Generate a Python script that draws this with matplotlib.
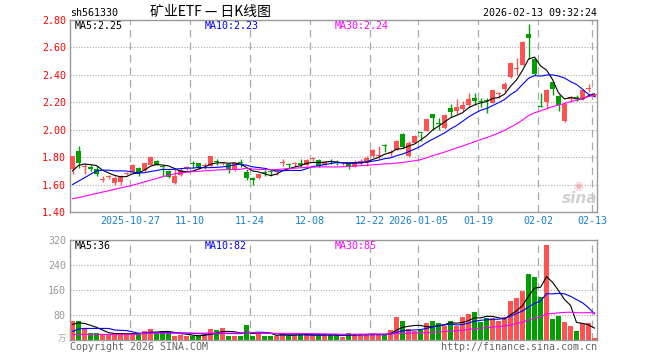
import matplotlib
matplotlib.use('Agg')
import matplotlib.pyplot as plt
import numpy as np
import pandas as pd

# ---- data (10-13 .. 02-13, 88 trading days) ----
opens = [1.71, 1.847, 1.73, 1.73, 1.71, 1.635, 1.655, 1.615, 1.62, 1.68,
         1.695, 1.72, 1.705, 1.745, 1.775, 1.73, 1.70, 1.612, 1.67, 1.72,
         1.752, 1.755, 1.735, 1.735, 1.77, 1.755, 1.75, 1.71, 1.757, 1.694,
         1.645, 1.645, 1.688, 1.695, 1.692, 1.758, 1.745, 1.748, 1.76, 1.745,
         1.79, 1.78, 1.745, 1.77, 1.762, 1.755, 1.756, 1.73, 1.765, 1.76,
         1.805, 1.808, 1.88, 1.828, 1.853, 1.972, 1.805, 1.903, 1.978, 1.994,
         2.112, 2.045, 2.014, 2.157, 2.137, 2.154, 2.179, 2.231, 2.205, 2.212,
         2.198, 2.258, 2.297, 2.383, 2.443, 2.474, 2.696, 2.519, 2.167, 2.203,
         2.346, 2.248, 2.063, 2.226, 2.236, 2.223, 2.297, 2.252]
closes = [1.81, 1.76, 1.735, 1.71, 1.68, 1.64, 1.66, 1.645, 1.66, 1.685,
          1.745, 1.685, 1.755, 1.80, 1.745, 1.728, 1.652, 1.662, 1.705, 1.72,
          1.75, 1.73, 1.737, 1.805, 1.768, 1.757, 1.71, 1.755, 1.755, 1.645,
          1.632, 1.675, 1.685, 1.693, 1.694, 1.76, 1.742, 1.75, 1.745, 1.78,
          1.792, 1.735, 1.768, 1.768, 1.76, 1.757, 1.73, 1.768, 1.768, 1.797,
          1.85, 1.81, 1.878, 1.83, 1.92, 1.873, 1.903, 1.952, 1.976, 2.075,
          2.083, 2.043, 2.105, 2.13, 2.162, 2.179, 2.223, 2.211, 2.203, 2.21,
          2.29, 2.26, 2.334, 2.487, 2.445, 2.642, 2.667, 2.408, 2.165, 2.292,
          2.297, 2.179, 2.186, 2.228, 2.234, 2.292, 2.299, 2.255]
highs = [1.81, 1.88, 1.755, 1.74, 1.735, 1.66, 1.67, 1.66, 1.67, 1.69,
         1.75, 1.725, 1.76, 1.805, 1.78, 1.745, 1.705, 1.71, 1.72, 1.735,
         1.77, 1.76, 1.756, 1.81, 1.785, 1.768, 1.755, 1.76, 1.785, 1.71,
         1.655, 1.68, 1.705, 1.705, 1.705, 1.785, 1.757, 1.768, 1.785, 1.785,
         1.80, 1.785, 1.773, 1.785, 1.78, 1.768, 1.76, 1.78, 1.79, 1.805,
         1.86, 1.88, 1.898, 1.855, 1.925, 1.975, 1.915, 1.965, 1.978, 2.08,
         2.115, 2.088, 2.112, 2.186, 2.223, 2.211, 2.267, 2.267, 2.228, 2.228,
         2.29, 2.277, 2.35, 2.494, 2.52, 2.647, 2.77, 2.524, 2.267, 2.297,
         2.351, 2.253, 2.203, 2.243, 2.253, 2.297, 2.334, 2.26]
lows = [1.68, 1.72, 1.68, 1.70, 1.66, 1.62, 1.64, 1.60, 1.60, 1.67,
        1.69, 1.665, 1.69, 1.74, 1.74, 1.66, 1.645, 1.607, 1.665, 1.705,
        1.72, 1.71, 1.71, 1.73, 1.745, 1.74, 1.685, 1.70, 1.73, 1.635,
        1.60, 1.64, 1.66, 1.665, 1.67, 1.735, 1.72, 1.73, 1.73, 1.735,
        1.77, 1.73, 1.74, 1.75, 1.745, 1.745, 1.71, 1.725, 1.745, 1.735,
        1.80, 1.785, 1.84, 1.805, 1.85, 1.87, 1.80, 1.90, 1.915, 1.99,
        2.00, 1.997, 2.007, 2.095, 2.112, 2.137, 2.162, 2.179, 2.162, 2.12,
        2.194, 2.228, 2.277, 2.376, 2.396, 2.469, 2.519, 2.40, 2.162, 2.154,
        2.253, 2.137, 2.055, 2.203, 2.211, 2.218, 2.272, 2.235]
volumes = [62, 62, 34, 22, 22, 20, 20, 20, 20, 20,
           20, 20, 30, 35, 22, 28, 22, 14, 16, 14,
           12, 12, 20, 34, 32, 38, 14, 14, 14, 48,
           14, 22, 12, 12, 14, 22, 14, 16, 16, 18,
           16, 16, 16, 16, 16, 11, 21, 18, 19, 18,
           18, 18, 16, 32, 74, 62, 35, 30, 32, 54,
           62, 53, 46, 62, 46, 74, 83, 91, 59, 72,
           72, 61, 73, 126, 134, 157, 212, 202, 139, 304,
           67, 78, 59, 46, 30, 53, 54, 7]

# moving-average values at the left edge (history before the window)
ma5_head = [1.70, 1.74, 1.75, 1.745]
ma10_head = [1.60, 1.625, 1.65, 1.675, 1.70, 1.705, 1.705, 1.70, 1.70]
ma30_head = [1.497, 1.505, 1.515, 1.525, 1.535, 1.545, 1.555, 1.565, 1.575, 1.585,
             1.595, 1.607, 1.62, 1.632, 1.645, 1.657, 1.668, 1.678, 1.685, 1.69,
             1.694, 1.697, 1.70, 1.703, 1.706, 1.708, 1.709, 1.71, 1.711]
vma5_head = [50, 55, 53, 47]
vma10_head = [27, 35, 37, 37, 37, 37, 37, 32, 31]
vma30_head = [18] * 12 + [22] * 17

date_idx = [10, 20, 30, 40, 50, 58, 68, 78, 87]
date_lbl = ['2025-10-27', '11-10', '11-24', '12-08', '12-22', '2026-01-05',
            '01-19', '02-02', '02-13']
price_ticks = [1.40, 1.60, 1.80, 2.00, 2.20, 2.40, 2.60, 2.80]
vol_ticks = [80, 160, 240, 320]


def ma(vals, n, head):
    s = pd.Series(vals, dtype=float).rolling(n).mean()
    s.iloc[:len(head)] = head
    return s.values


W, H = 660, 360
RED = '#ff5252'
GRN = '#00a000'
GRID = '#aaaaaa'
plt.rcParams['font.family'] = ['DejaVu Sans Mono', 'Noto Sans CJK SC']

fig = plt.figure(figsize=(6.6, 3.6), dpi=100)


def fx(x):
    return x / W


def fy(y):
    return 1 - y / H


ax = fig.add_axes([fx(70), fy(212), 527 / W, 192 / H])
axv = fig.add_axes([fx(70), fy(340), 527 / W, 100 / H])

o = np.array(opens); c = np.array(closes)
h = np.array(highs); l = np.array(lows); v = np.array(volumes)
x = np.arange(len(o))
up = c >= o
cols = np.where(up, RED, GRN)

xl = (-0.42, 87.41)
for a in (ax, axv):
    a.set_xlim(*xl)
    for s in a.spines.values():
        s.set_color('#999999')
        s.set_linewidth(1.0)
    for d in date_idx:
        a.axvline(d - 0.42, color=GRID, lw=0.9, dashes=(6, 4), zorder=0)

ax.set_ylim(1.40, 2.80)
for p in price_ticks[1:-1]:
    ax.axhline(p, color=GRID, lw=0.8, dashes=(1, 1.5), zorder=0)
axv.set_ylim(0, 320)
for p in vol_ticks[:-1]:
    axv.axhline(p, color=GRID, lw=0.8, dashes=(1, 1.5), zorder=0)

# candles
ax.vlines(x, l, h, colors=cols, lw=1.0, zorder=2)
body = np.maximum(np.abs(c - o), 0.007)
ax.bar(x, body, bottom=np.minimum(o, c), width=0.85, color=cols, lw=0, zorder=3)

ax.plot(x, ma(closes, 5, ma5_head), color='black', lw=0.8, zorder=4)
ax.plot(x, ma(closes, 10, ma10_head), color='#0000ff', lw=0.8, zorder=4)
ax.plot(x, ma(closes, 30, ma30_head), color='#ff00ff', lw=0.8, zorder=4)

# volume
axv.bar(x, v, width=0.85, color=cols, lw=0, zorder=2)
axv.plot(x, ma(volumes, 5, vma5_head), color='black', lw=0.8, zorder=4)
axv.plot(x, ma(volumes, 10, vma10_head), color='#0000ff', lw=0.8, zorder=4)
axv.plot(x, ma(volumes, 30, vma30_head), color='#ff00ff', lw=0.8, zorder=4)

ax.set_yticks(price_ticks)
ax.set_yticklabels(['%.2f' % p for p in price_ticks], color='red', fontsize=7.2)
ax.set_xticks([d - 0.42 for d in date_idx])
ax.set_xticklabels(date_lbl, color='#1a7fd0', fontsize=7.2)
ax.tick_params(length=0, pad=3)
axv.set_yticks(vol_ticks)
axv.set_yticklabels([str(t) for t in vol_ticks], color='#999999', fontsize=7.2)
axv.set_xticks([])
axv.tick_params(length=0, pad=3)

# legends
fs = 7.2
fig.text(fx(75), fy(26), 'MA5:2.25', color='black', fontsize=fs, va='center')
fig.text(fx(205), fy(26), 'MA10:2.23', color='#0000ff', fontsize=fs, va='center')
fig.text(fx(335), fy(26), 'MA30:2.24', color='#ff00ff', fontsize=fs, va='center')
fig.text(fx(75), fy(246), 'MA5:36', color='black', fontsize=fs, va='center')
fig.text(fx(205), fy(246), 'MA10:82', color='#0000ff', fontsize=fs, va='center')
fig.text(fx(335), fy(246), 'MA30:85', color='#ff00ff', fontsize=fs, va='center')

# header / footer
fig.text(fx(70), fy(13), 'sh561330', fontsize=fs, va='center')
fig.text(fx(210), fy(12), '矿业ETF — 日K线图', fontsize=10, va='center', ha='center',
         family=['Noto Sans CJK SC', 'DejaVu Sans'])
fig.text(fx(597), fy(13), '2026-02-13 09:32:24', fontsize=fs, va='center', ha='right')
fig.text(fx(70), fy(347), 'Copyright 2026 SINA.COM', fontsize=fs, va='center', color='#666666')
fig.text(fx(597), fy(347), 'http://finance.sina.com.cn', fontsize=fs, va='center',
         ha='right', color='#666666')
fig.text(fx(66), fy(338), '万', fontsize=6, va='center', ha='right', color='#aaaaaa',
         family=['Noto Sans CJK SC'])

# sina watermark
fig.text(fx(580), fy(198), 'sina', fontsize=11, fontweight='bold', style='italic',
         color='#d0d0d0', ha='center', va='center', family='DejaVu Sans')
fig.text(fx(578), fy(186), '◉', fontsize=8, color='#f2b8b8', ha='center', va='center',
         family='DejaVu Sans')

fig.savefig('out.png', dpi=100)
